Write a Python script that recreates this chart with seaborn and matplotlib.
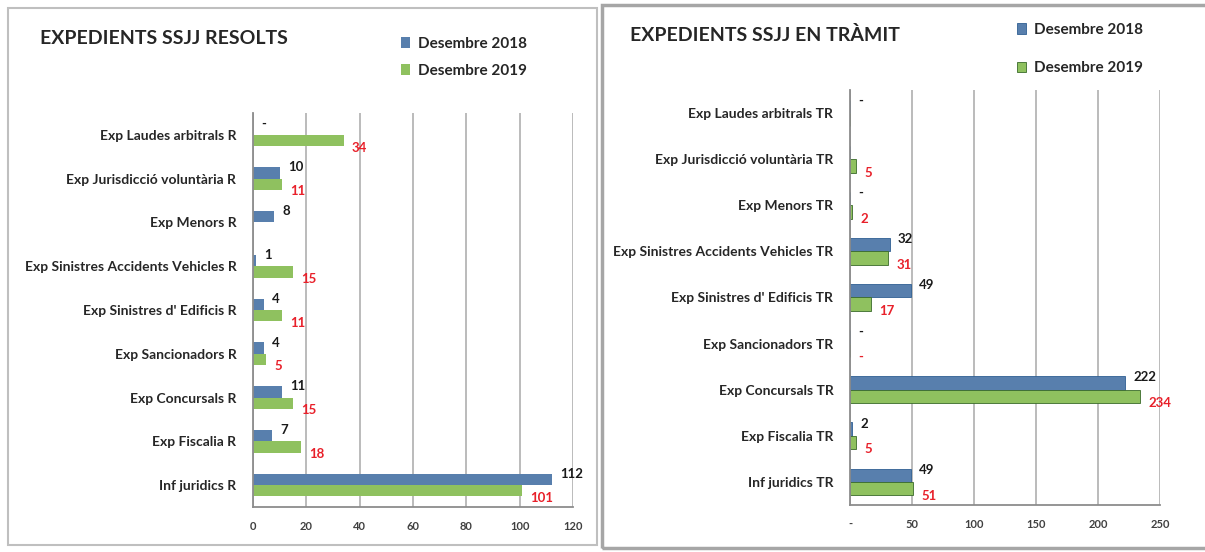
import pandas as pd
import seaborn as sns
import matplotlib.pyplot as plt
import numpy as np
from matplotlib.patches import Rectangle
from matplotlib.ticker import FuncFormatter

# Data (None = no bar and no label)
resolts_cats = ['Exp Laudes arbitrals R', 'Exp Jurisdicció voluntària R', 'Exp Menors R',
                'Exp Sinistres Accidents Vehicles R', "Exp Sinistres d' Edificis R",
                'Exp Sancionadors R', 'Exp Concursals R', 'Exp Fiscalia R', 'Inf juridics R']
resolts_2018 = [0, 10, 8, 1, 4, 4, 11, 7, 112]
resolts_2019 = [34, 11, None, 15, 11, 5, 15, 18, 101]

tramit_cats = ['Exp Laudes arbitrals TR', 'Exp Jurisdicció voluntària TR', 'Exp Menors TR',
               'Exp Sinistres Accidents Vehicles TR', "Exp Sinistres d' Edificis TR",
               'Exp Sancionadors TR', 'Exp Concursals TR', 'Exp Fiscalia TR', 'Inf juridics TR']
tramit_2018 = [0, None, 0, 32, 49, 0, 222, 2, 49]
tramit_2019 = [None, 5, 2, 31, 17, 0, 234, 5, 51]

years = ['Desembre 2018', 'Desembre 2019']
blue = '#4a7ebb'
green = '#8fd14f'

sns.set_style('white')
plt.rcParams['font.family'] = ['Lato', 'DejaVu Sans']


def make_df(cats, v18, v19):
    rows = []
    for c, a, b in zip(cats, v18, v19):
        rows.append((c, years[0], 0 if a is None else a))
        rows.append((c, years[1], 0 if b is None else b))
    return pd.DataFrame(rows, columns=['cat', 'year', 'value'])


def draw_panel(ax, cats, v18, v19, xmax, step, width, edge):
    df = make_df(cats, v18, v19)
    sns.barplot(data=df, y='cat', x='value', hue='year', hue_order=years, order=cats,
                palette=[blue, green], orient='h', width=width, ax=ax, legend=False,
                edgecolor=edge, linewidth=0.6 if edge != 'none' else 0)
    ax.set_xlim(0, xmax)
    ax.set_xticks(np.arange(0, xmax + 1, step))
    ax.grid(axis='x', color='#b5b5b5', linewidth=1.3)
    ax.set_axisbelow(True)
    for s in ['top', 'right']:
        ax.spines[s].set_visible(False)
    for s in ['left', 'bottom']:
        ax.spines[s].set_color('#8c8c8c')
        ax.spines[s].set_linewidth(1.3)
    ax.tick_params(length=0)
    ax.tick_params(axis='y', labelsize=10, labelcolor='#262626', pad=12)
    ax.tick_params(axis='x', labelsize=8, labelcolor='#404040', pad=10)
    for t in ax.get_yticklabels():
        t.set_fontweight('bold')
    for t in ax.get_xticklabels():
        t.set_fontweight('bold')
    ax.set_xlabel('')
    ax.set_ylabel('')

    # data labels
    for cont, vals, col, dy in [(ax.containers[0], v18, '#1a1a1a', 4),
                                (ax.containers[1], v19, '#e8202a', -5)]:
        for bar, v in zip(cont, vals):
            if v is None:
                continue
            txt = '-' if v == 0 else str(v)
            ax.annotate(txt, (bar.get_width(), bar.get_y() + bar.get_height() / 2),
                        xytext=(6, dy), textcoords='offset points', va='center',
                        ha='left', fontsize=9.5, fontweight='bold', color=col)
    return ax


fig = plt.figure(figsize=(12.05, 5.52), dpi=100)

# panel frames
fig.patches.append(Rectangle((8 / 1205, 1 - 545 / 552), 589 / 1205, 537 / 552,
                             transform=fig.transFigure, fill=False,
                             edgecolor='#bfbfbf', linewidth=1.5))
fig.patches.append(Rectangle((602 / 1205, 1 - 548 / 552), 610 / 1205, 543 / 552,
                             transform=fig.transFigure, fill=False,
                             edgecolor='#a6a6a6', linewidth=2.5))

# left chart
ax1 = fig.add_axes([253 / 1205, 1 - 507 / 552, 320 / 1205, 394 / 552])
draw_panel(ax1, resolts_cats, resolts_2018, resolts_2019, 120, 20, 0.52, 'none')
fig.text(40 / 1205, 1 - 38 / 552, 'EXPEDIENTS SSJJ RESOLTS', fontsize=14,
         fontweight='bold', color='#262626', va='center')
ax1.legend(ax1.containers[0].patches[:1] + ax1.containers[1].patches[:1], years,
           loc='upper left', bbox_to_anchor=(401 / 1205, 1 - 37 / 552),
           bbox_transform=fig.transFigure, frameon=False, borderpad=0,
           borderaxespad=0, handlelength=0.6, handleheight=0.7, handletextpad=0.5,
           labelspacing=0.85, prop={'weight': 'bold', 'size': 11})

# right chart
ax2 = fig.add_axes([850 / 1205, 1 - 505 / 552, 310 / 1205, 415 / 552])
draw_panel(ax2, tramit_cats, tramit_2018, tramit_2019, 250, 50, 0.58, '#3a6a2a')
ax2.xaxis.set_major_formatter(FuncFormatter(lambda v, p: '-' if v == 0 else f'{v:.0f}'))
for bar in ax2.containers[0]:
    bar.set_edgecolor('#2f5f93')
fig.text(630 / 1205, 1 - 35 / 552, 'EXPEDIENTS SSJJ EN TRÀMIT', fontsize=14,
         fontweight='bold', color='#262626', va='center')
ax2.legend(ax2.containers[0].patches[:1] + ax2.containers[1].patches[:1], years,
           loc='upper left', bbox_to_anchor=(1017 / 1205, 1 - 23 / 552),
           bbox_transform=fig.transFigure, frameon=False, borderpad=0,
           borderaxespad=0, handlelength=0.6, handleheight=0.7, handletextpad=0.5,
           labelspacing=1.6, prop={'weight': 'bold', 'size': 11})

plt.savefig('out.png', dpi=100)
